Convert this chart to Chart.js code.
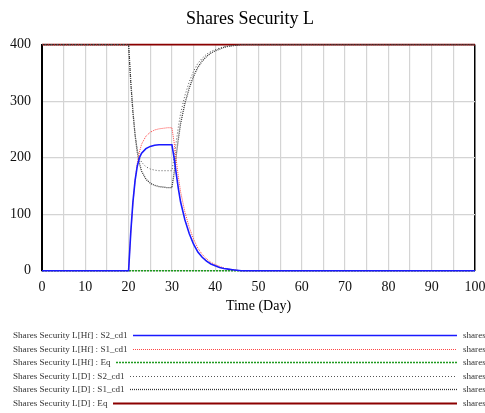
<!DOCTYPE html>
<html>
<head>
<meta charset="utf-8">
<script src="https://cdn.jsdelivr.net/npm/chart.js@4.4.0/dist/chart.umd.min.js"></script>
<style>
  html, body { margin: 0; padding: 0; background: #fff; }
  #wrap { width: 485px; height: 413px; position: relative; }
</style>
</head>
<body>
<div id="wrap"><canvas id="c" width="485" height="413"></canvas></div>
<script>
// ---- data ----
const seriesNames = [
    'Shares Security L[Hf] : S2_cd1',
    'Shares Security L[Hf] : S1_cd1',
    'Shares Security L[Hf] : Eq',
    'Shares Security L[D] : S2_cd1',
    'Shares Security L[D] : S1_cd1',
    'Shares Security L[D] : Eq'
];

// time (day) samples
const days = [0, 20, 20.5, 21, 21.5, 22, 22.5, 23, 24, 25, 26, 27, 28, 29, 30, 30.5, 31, 31.5, 32,
              33, 34, 35, 36, 37, 38, 39, 40, 41, 42, 43, 44, 45, 46, 100];

const hfS2 = [0, 0, 68, 122, 160, 185, 200, 208, 216, 220, 222, 223, 223, 223, 223, 200, 172, 145, 122,
              90, 66, 47, 33, 24, 17, 12, 9, 6, 4, 3, 2, 1, 0, 0];
const hfS1 = [0, 0, 65, 118, 160, 190, 210, 224, 238, 245, 249, 251, 252, 253, 253, 228, 196, 166, 140,
              104, 77, 56, 40, 29, 21, 15, 11, 8, 5, 3, 2, 1, 0, 0];
const hfEq = [0, 0, 0, 0, 0, 0, 0, 0, 0, 0, 0, 0, 0, 0, 0, 0, 0, 0, 0,
              0, 0, 0, 0, 0, 0, 0, 0, 0, 0, 0, 0, 0, 0, 0];
const dS2  = [400, 400, 332, 278, 240, 215, 200, 192, 184, 180, 178, 177, 177, 177, 177, 200, 228, 255, 278,
              310, 334, 353, 367, 376, 383, 388, 391, 394, 396, 397, 398, 399, 400, 400];
const dS1  = [400, 400, 335, 282, 240, 210, 190, 176, 162, 155, 151, 149, 148, 147, 147, 172, 204, 234, 260,
              296, 323, 344, 360, 371, 379, 385, 389, 392, 395, 397, 398, 399, 400, 400];
const dEq  = [400, 400, 400, 400, 400, 400, 400, 400, 400, 400, 400, 400, 400, 400, 400, 400, 400, 400, 400,
              400, 400, 400, 400, 400, 400, 400, 400, 400, 400, 400, 400, 400, 400, 400];

const allValues = [hfS2, hfS1, hfEq, dS2, dS1, dEq];

// ---- styles ----
const lineStyles = [
    { color: '#1a1aff', width: 1.6, dash: [],     legendStart: 133 },
    { color: '#ff4444', width: 1,   dash: [1, 1], legendStart: 133 },
    { color: '#1f9a1f', width: 1.5, dash: [2, 1], legendStart: 116 },
    { color: '#555555', width: 1,   dash: [1, 2], legendStart: 130 },
    { color: '#333333', width: 1.3, dash: [1, 1], legendStart: 130 },
    { color: '#8b0000', width: 1.8, dash: [],     legendStart: 113 }
];

const serif = '"Liberation Serif", "DejaVu Serif", serif';

const datasets = allValues.map((vals, i) => ({
    label: seriesNames[i],
    data: days.map((d, j) => ({ x: d, y: vals[j] })),
    borderColor: lineStyles[i].color,
    borderWidth: lineStyles[i].width,
    borderDash: lineStyles[i].dash,
    pointRadius: 0,
    tension: 0,
    fill: false,
    clip: 4
}));

// nudge the title a little right, as in the original
const titleShift = {
    id: 'titleShift',
    beforeDraw(chart) {
        if (chart.titleBlock && !chart.titleBlock._shifted) {
            chart.titleBlock.left += 15;
            chart.titleBlock._shifted = true;
        }
    }
};

// legend drawn below the plot, Vensim style
const bottomLegend = {
    id: 'bottomLegend',
    afterDraw(chart) {
        const ctx = chart.ctx;
        ctx.save();
        ctx.font = '9.1px ' + serif;
        ctx.textBaseline = 'middle';
        const rowY = [336, 350, 363, 377, 390, 404];
        seriesNames.forEach((name, i) => {
            const st = lineStyles[i];
            ctx.fillStyle = '#333';
            ctx.textAlign = 'left';
            ctx.fillText(name, 13, rowY[i]);
            ctx.beginPath();
            ctx.strokeStyle = st.color;
            ctx.lineWidth = st.width;
            ctx.setLineDash(st.dash);
            ctx.moveTo(st.legendStart, rowY[i] - 0.5);
            ctx.lineTo(457, rowY[i] - 0.5);
            ctx.stroke();
            ctx.setLineDash([]);
            ctx.fillText('shares', 463, rowY[i]);
        });
        ctx.restore();
    }
};

new Chart(document.getElementById('c'), {
    type: 'line',
    data: { datasets: datasets },
    options: {
        responsive: false,
        animation: false,
        layout: { padding: { left: 0, right: 0, top: 0, bottom: 96 } },
        plugins: {
            legend: { display: false },
            tooltip: { enabled: false },
            title: {
                display: true,
                text: 'Shares Security L',
                color: '#000',
                font: { family: serif, size: 18, weight: 'normal' },
                padding: { top: 8, bottom: 15 }
            }
        },
        scales: {
            x: {
                type: 'linear',
                min: 0,
                max: 100,
                afterFit: s => { s.paddingRight = 10; },
                ticks: {
                    stepSize: 5,
                    autoSkip: false,
                    maxRotation: 0,
                    color: '#111',
                    font: { family: serif, size: 14 },
                    padding: 8.5,
                    callback: v => (v % 10 === 0 ? v : '')
                },
                grid: {
                    color: ctx => (ctx.tick && ctx.tick.value === 100 ? '#000' : '#d4d4d4'),
                    lineWidth: ctx => (ctx.tick && ctx.tick.value === 100 ? 1.5 : 1.2),
                    drawTicks: false
                },
                border: { display: false },
                title: {
                    display: true,
                    text: 'Time (Day)',
                    color: '#000',
                    font: { family: serif, size: 14 },
                    padding: { top: -6.9, bottom: 2.5 }
                }
            },
            y: {
                min: 0,
                max: 400,
                afterFit: s => { s.width = 42; },
                ticks: {
                    stepSize: 100,
                    color: '#111',
                    font: { family: serif, size: 14 },
                    padding: 11
                },
                grid: { color: '#d4d4d4', lineWidth: 1.2, drawTicks: false },
                border: { display: true, color: '#000', width: 2 }
            }
        }
    },
    plugins: [titleShift, bottomLegend]
});
</script>
</body>
</html>
